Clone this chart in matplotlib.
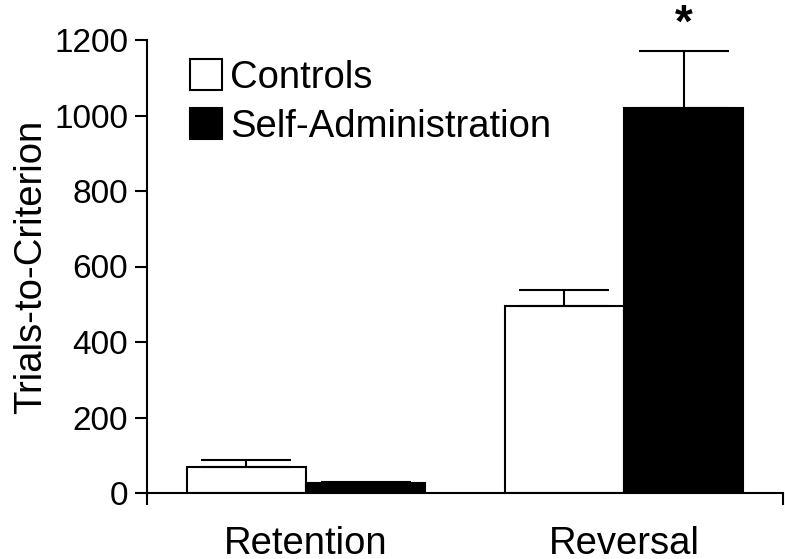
import numpy as np
import matplotlib.pyplot as plt
from matplotlib.patches import Patch

# Data
phases = ['Retention', 'Reversal']
groups = ['Controls', 'Self-Administration']
controls_mean = [69, 496]
controls_sem = [19, 43]
selfadmin_mean = [27, 1020]
selfadmin_sem = [3, 150]
yticks = [0, 200, 400, 600, 800, 1000, 1200]

plt.rcParams['font.family'] = ['Liberation Sans', 'DejaVu Sans']

fig = plt.figure(figsize=(7.85, 5.59), dpi=100)
ax = fig.add_axes([147/785, 1-493/559, (783-147)/785, (493-40)/559])

x = np.arange(len(phases))
w = 0.375
lw = 1.5

ax.bar(x - w/2, controls_mean, w, color='white', edgecolor='black', linewidth=lw, zorder=2)
ax.bar(x + w/2, selfadmin_mean, w, color='black', edgecolor='black', linewidth=lw, zorder=2)

zeros = np.zeros(len(phases))
ax.errorbar(x - w/2, controls_mean, yerr=[zeros, controls_sem], fmt='none',
            ecolor='black', elinewidth=lw, capsize=32.5, capthick=lw, zorder=3)
ax.errorbar(x + w/2, selfadmin_mean, yerr=[zeros, selfadmin_sem], fmt='none',
            ecolor='black', elinewidth=lw, capsize=32.5, capthick=lw, zorder=3)

# significance star
ax.text(x[1] + w/2, selfadmin_mean[1] + selfadmin_sem[1] + 40, '*', ha='center', va='baseline',
        fontsize=33, fontweight='bold', clip_on=False)

ax.set_xlim(-0.5, 1.5)
ax.set_ylim(0, 1200)
ax.set_yticks(yticks)
ax.tick_params(axis='y', labelsize=24, length=8.5, width=lw, pad=5, direction='out')

ax.set_xticks(x)
ax.set_xticklabels(phases, fontsize=27.5)
ax.tick_params(axis='x', which='major', length=0, pad=24)
ax.set_xticks([-0.5, 1.5], minor=True)
ax.tick_params(axis='x', which='minor', length=8.5, width=lw, direction='out')

for s in ['top', 'right']:
    ax.spines[s].set_visible(False)
for s in ['left', 'bottom']:
    ax.spines[s].set_linewidth(lw)

ax.set_ylabel('Trials-to-Criterion', fontsize=27.5, labelpad=4)

handles = [Patch(facecolor='white', edgecolor='black', linewidth=lw),
           Patch(facecolor='black', edgecolor='black', linewidth=lw)]
ax.legend(handles, groups, loc='upper left', bbox_to_anchor=(0.068, 0.957), frameon=False,
          fontsize=27.5, handlelength=0.84, handleheight=0.84, handletextpad=0.2,
          labelspacing=0.33, borderaxespad=0, borderpad=0)

fig.savefig('out.png', dpi=100)
